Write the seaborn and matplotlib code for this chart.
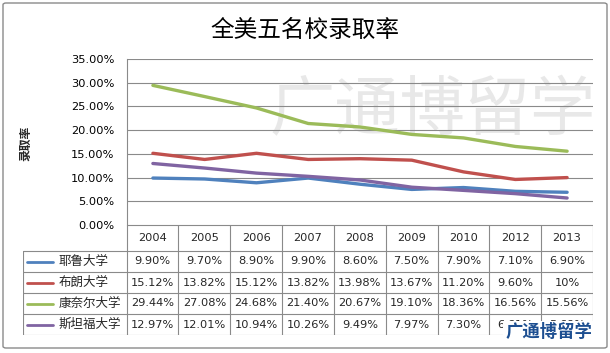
import matplotlib
matplotlib.use("Agg")
import matplotlib.pyplot as plt
import seaborn as sns
import pandas as pd
from matplotlib.patches import FancyBboxPatch

sns.set_theme(style="white")
plt.rcParams['font.family'] = ['DejaVu Sans', 'Noto Sans CJK SC']

# ---- data ----
years = ["2004", "2005", "2006", "2007", "2008", "2009", "2010", "2012", "2013"]
schools = ["耶鲁大学", "布朗大学", "康奈尔大学", "斯坦福大学"]
yale = [9.90, 9.70, 8.90, 9.90, 8.60, 7.50, 7.90, 7.10, 6.90]
brown = [15.12, 13.82, 15.12, 13.82, 13.98, 13.67, 11.20, 9.60, 10.0]
cornell = [29.44, 27.08, 24.68, 21.40, 20.67, 19.10, 18.36, 16.56, 15.56]
stanford = [12.97, 12.01, 10.94, 10.26, 9.49, 7.97, 7.30, 6.61, 5.69]
series = [yale, brown, cornell, stanford]
colors = ["#4F81BD", "#C0504D", "#9BBB59", "#8064A2"]
yticks = [0, 5, 10, 15, 20, 25, 30, 35]

rows = []
for name, vals in zip(schools, series):
    for i, (yr, v) in enumerate(zip(years, vals)):
        rows.append({"school": name, "pos": i, "year": yr, "rate": v})
df = pd.DataFrame(rows)

W, H = 610, 353
def px(x0, y0, x1, y1):
    return [x0 / W, 1 - y1 / H, (x1 - x0) / W, (y1 - y0) / H]

fig = plt.figure(figsize=(W / 100, H / 100), dpi=100)
fig.patch.set_facecolor("white")

# outer frame
frame = FancyBboxPatch((3 / W, 1 - 348 / H), 604 / W, 345 / H,
                       boxstyle="round,pad=0,rounding_size=0.005",
                       transform=fig.transFigure, fill=False,
                       edgecolor="#8a8a8a", lw=1.0)
fig.patches.append(frame)

# title
fig.text(305 / W, 1 - 30 / H, "全美五名校录取率", ha="center", va="center",
         fontsize=17, family=["Noto Sans CJK SC"], color="black")

# ---- plot ----
ax = fig.add_axes(px(127, 59, 593, 225))
ax.set_facecolor("none")
# watermark
ax.text(433 / W, 1 - 112 / H, "广通博留学", transform=fig.transFigure,
        ha="center", va="center", fontsize=47, color="#d9d9d9", alpha=0.6,
        family=["Noto Sans CJK SC"], zorder=0.2, clip_on=False)

sns.lineplot(data=df, x="pos", y="rate", hue="school", hue_order=schools,
             palette=colors, ax=ax, lw=2.4, legend=False, sort=False, zorder=3)
ax.set_xlim(-0.5, len(years) - 0.5)
ax.set_ylim(0, 35)
ax.set_yticks(yticks)
ax.set_yticklabels([f"{v:.2f}%" for v in yticks])
ax.set_xticks([])
ax.set_xlabel("")
ax.set_ylabel("")
ax.yaxis.grid(True, color="#8a8a8a", lw=0.8)
ax.tick_params(axis="y", length=0, pad=9, labelsize=8.2, colors="black")
for s in ["top", "right", "bottom"]:
    ax.spines[s].set_visible(False)
ax.spines["left"].set_color("#8a8a8a")
ax.spines["left"].set_linewidth(0.8)

fig.text(26 / W, 1 - 143 / H, "录取率", rotation=90, ha="center", va="center",
         fontsize=8.5, fontweight="bold", family=["Noto Sans CJK SC"])

# ---- data table ----
tax = fig.add_axes(px(23, 225, 593, 335))
tax.set_xlim(-2.5, len(years) - 0.5)
tax.set_ylim(110, 0)
tax.axis("off")

bounds = [0, 26, 47, 68, 89, 110]
lc = "#8a8a8a"
tax.plot([-0.5, len(years) - 0.5], [0, 0], color=lc, lw=0.8)
for yb in bounds[1:]:
    tax.plot([-2.5, len(years) - 0.5], [yb, yb], color=lc, lw=0.8)
tax.plot([-2.5, -2.5], [26, 110], color=lc, lw=0.8)
for k in range(len(years) + 1):
    tax.plot([k - 0.5, k - 0.5], [0, 110], color=lc, lw=0.8)

for i, yr in enumerate(years):
    tax.text(i, 13, yr, ha="center", va="center", fontsize=8.2)

def fmt(v):
    return f"{int(v)}%" if float(v).is_integer() else f"{v:.2f}%"

for r, (name, vals, c) in enumerate(zip(schools, series, colors)):
    yc = (bounds[r + 1] + bounds[r + 2]) / 2
    tax.plot([-2.42, -1.92], [yc, yc], color=c, lw=2.0)
    tax.text(-1.82, yc, name, ha="left", va="center", fontsize=9)
    for i, v in enumerate(vals):
        tax.text(i, yc, fmt(v), ha="center", va="center", fontsize=8.2)

# blue logo stamp
fig.text(549 / W, 1 - 332 / H, "广通博留学", ha="center", va="center",
         fontsize=12.5, fontweight="bold", color="#1d4f91",
         family=["Noto Sans CJK SC"],
         bbox=dict(facecolor="white", edgecolor="none", pad=1.5))

fig.savefig("out.png", dpi=100, facecolor="white")
